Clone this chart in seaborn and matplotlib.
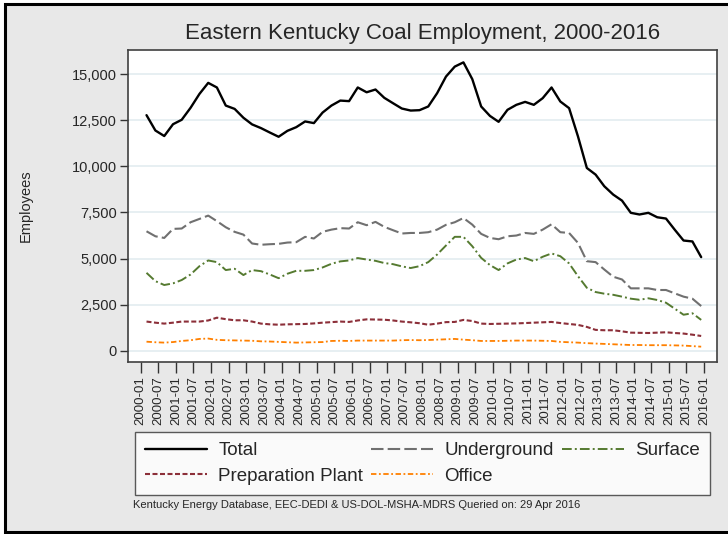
import numpy as np
import pandas as pd
import matplotlib
matplotlib.use('Agg')
import matplotlib.pyplot as plt
import matplotlib.ticker as mticker
from matplotlib.patches import Rectangle
import seaborn as sns

# =====================================================
# Data (quarterly)
# =====================================================

dates = pd.date_range('2000-03-01', periods=64, freq='3MS')

total = [12770, 11940, 11640, 12280, 12520, 13170, 13920, 14520, 14270, 13290,
         13110, 12630, 12270, 12070, 11830, 11600, 11920, 12120, 12430, 12340,
         12910, 13290, 13560, 13530, 14270, 14010, 14160, 13710, 13420, 13130,
         13020, 13040, 13240, 13960, 14860, 15400, 15630, 14720, 13240, 12730,
         12410, 13060, 13330, 13490, 13330, 13690, 14270, 13510, 13150, 11620,
         9910, 9550, 8920, 8470, 8140, 7480, 7390, 7480, 7240, 7170,
         6570, 5980, 5930, 5080]

underground = [6480, 6210, 6120, 6610, 6630, 6970, 7150, 7330, 7030, 6700,
               6450, 6300, 5820, 5750, 5780, 5800, 5870, 5890, 6180, 6090,
               6450, 6570, 6650, 6630, 6970, 6810, 6990, 6720, 6540, 6360,
               6390, 6390, 6430, 6570, 6830, 6970, 7200, 6840, 6340, 6120,
               6050, 6210, 6250, 6390, 6340, 6570, 6860, 6430, 6390, 5850,
               4860, 4810, 4410, 4020, 3870, 3390, 3390, 3390, 3300, 3300,
               3120, 2940, 2830, 2430]

surface = [4230, 3780, 3570, 3660, 3840, 4140, 4590, 4900, 4810, 4380,
           4450, 4110, 4380, 4320, 4140, 3940, 4180, 4340, 4340, 4380,
           4520, 4720, 4850, 4900, 5030, 4950, 4880, 4760, 4700, 4580,
           4490, 4590, 4810, 5220, 5710, 6180, 6180, 5670, 5040, 4650,
           4380, 4740, 4950, 5030, 4860, 5100, 5280, 5130, 4740, 4050,
           3420, 3190, 3100, 3040, 2940, 2830, 2770, 2850, 2760, 2610,
           2290, 1960, 2040, 1680]

prep_plant = [1590, 1530, 1480, 1530, 1590, 1590, 1590, 1650, 1800, 1720,
              1660, 1660, 1590, 1480, 1440, 1420, 1440, 1450, 1460, 1490,
              1530, 1560, 1590, 1570, 1650, 1710, 1700, 1690, 1650, 1590,
              1550, 1500, 1420, 1480, 1560, 1570, 1680, 1620, 1480, 1460,
              1470, 1480, 1490, 1510, 1530, 1550, 1570, 1510, 1460, 1410,
              1300, 1140, 1120, 1120, 1060, 990, 980, 970, 990, 1010,
              970, 940, 880, 810]

office = [500, 470, 450, 480, 540, 580, 650, 670, 600, 580,
          570, 560, 550, 520, 510, 490, 470, 450, 460, 470,
          480, 540, 550, 540, 560, 560, 560, 560, 560, 580,
          590, 580, 590, 610, 630, 650, 610, 580, 540, 540,
          540, 550, 560, 560, 560, 550, 540, 490, 470, 450,
          420, 400, 380, 360, 340, 320, 320, 310, 310, 310,
          300, 290, 260, 230]

series_names = ['Total', 'Underground', 'Surface', 'Preparation Plant', 'Office']
series_values = [total, underground, surface, prep_plant, office]
series_colors = ['#000000', '#707070', '#557a30', '#8c2f39', '#ff8000']
series_styles = ['-', (0, (6, 2)), (0, (5, 1.6, 1, 1.6)), (0, (2.4, 1.2)), (0, (3, 1.4, 1, 1.4))]
series_widths = [1.7, 1.5, 1.4, 1.5, 1.3]

tick_dates = pd.date_range('2000-01-01', '2016-01-01', freq='6MS')
tick_labels = [d.strftime('%Y-%m') for d in tick_dates]
y_ticks = np.arange(0, 15001, 2500)

# =====================================================
# Plot
# =====================================================

sns.set_style('white')
plt.rcParams['font.family'] = ['Liberation Sans', 'DejaVu Sans']

fig = plt.figure(figsize=(7.28, 5.34), dpi=100, facecolor='white')
fig.add_artist(Rectangle((5 / 728, 2 / 534), 1.1, 528 / 534, transform=fig.transFigure,
                         facecolor='#e8e8e8', edgecolor='black', lw=2.2, zorder=-10))

ax = fig.add_axes([128 / 728, 172 / 534, 589 / 728, 312 / 534])
ax.set_facecolor('white')

for name, vals, c, ls, lw in zip(series_names, series_values, series_colors,
                                  series_styles, series_widths):
    sns.lineplot(x=dates, y=vals, ax=ax, color=c, linestyle=ls, linewidth=lw,
                 label=name, legend=False)

ax.set_xlim(pd.Timestamp('1999-08-22'), pd.Timestamp('2016-05-13'))
ax.set_ylim(-600, 16300)
ax.set_xticks(tick_dates)
ax.set_xticklabels(tick_labels)
ax.set_yticks(y_ticks)
ax.yaxis.set_major_formatter(mticker.StrMethodFormatter('{x:,.0f}'))

ax.tick_params(bottom=True, left=True, color='#333333')
ax.tick_params(axis='x', length=8, width=1, labelsize=9.5, labelrotation=90, pad=2)
ax.tick_params(axis='y', length=6, width=1, labelsize=10.5, pad=2)

ax.grid(axis='y', color='#e3ecf0', lw=1.2)
ax.grid(axis='x', visible=False)
ax.set_axisbelow(True)
for sp in ax.spines.values():
    sp.set_visible(True)
    sp.set_color('#404040')
    sp.set_linewidth(1.2)

ax.set_xlabel('')
ax.set_ylabel('Employees', fontsize=10.5)
ax.yaxis.set_label_coords(-0.161, 0.5)

fig.text(422.5 / 728, 1 - 33 / 534, 'Eastern Kentucky Coal Employment, 2000-2016',
         ha='center', va='center', fontsize=16)
fig.text(133 / 728, 1 - 505 / 534,
         'Kentucky Energy Database, EEC-DEDI & US-DOL-MSHA-MDRS Queried on: 29 Apr 2016',
         ha='left', va='center', fontsize=8)

# Legend: rows Total/Underground/Surface then Preparation Plant/Office
handles, labels = ax.get_legend_handles_labels()
lookup = dict(zip(labels, handles))
order = ['Total', 'Preparation Plant', 'Underground', 'Office', 'Surface']
leg = fig.legend([lookup[k] for k in order], order, loc='upper left',
                 bbox_to_anchor=(135 / 728, 102 / 534, 575 / 728, 0), mode='expand',
                 ncol=3, fontsize=13.5, handlelength=3.3, handletextpad=0.6,
                 frameon=True, fancybox=False, edgecolor='#333333', borderpad=0.55,
                 labelspacing=0.45, borderaxespad=0)
leg.get_frame().set_linewidth(1)
leg.get_frame().set_facecolor('white')

fig.savefig('out.png', dpi=100)
